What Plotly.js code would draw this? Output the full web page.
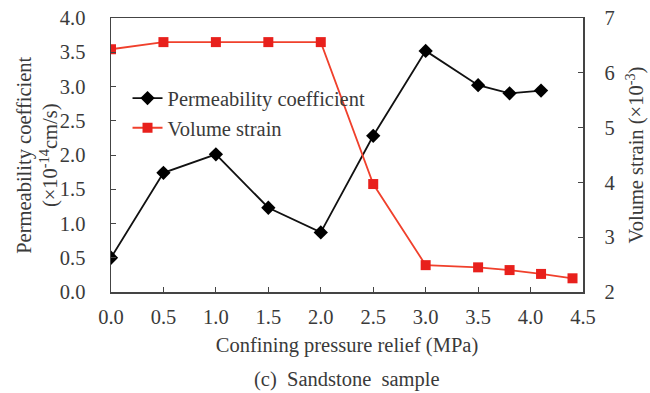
<!DOCTYPE html>
<html>
<head>
<meta charset="utf-8">
<script src="https://cdn.plot.ly/plotly-3.0.1.min.js"></script>
<style>html,body{margin:0;padding:0;background:#fff;}#chart{width:650px;height:393px;}</style>
</head>
<body>
<div id="chart"></div>
<script>
const pressurePerm = [0, 0.5, 1.0, 1.5, 2.0, 2.5, 3.0, 3.5, 3.8, 4.1];
const permeability = [0.50, 1.74, 2.01, 1.23, 0.87, 2.28, 3.52, 3.02, 2.90, 2.94];
const pressureStrain = [0, 0.5, 1.0, 1.5, 2.0, 2.5, 3.0, 3.5, 3.8, 4.1, 4.4];
const volumeStrain = [6.43, 6.56, 6.56, 6.56, 6.56, 3.97, 2.49, 2.45, 2.40, 2.33, 2.25];

const FONT = '"Liberation Serif", serif';
const TXT = '#3a3a3a';
const FS = 20.5;

const traces = [
  {
    x: pressurePerm, y: permeability, name: 'Permeability coefficient',
    type: 'scatter', mode: 'lines+markers', yaxis: 'y',
    line: {color: '#111111', width: 1.8},
    marker: {symbol: 'diamond', size: 11, color: '#000000'}
  },
  {
    x: pressureStrain, y: volumeStrain, name: 'Volume strain',
    type: 'scatter', mode: 'lines+markers', yaxis: 'y2',
    line: {color: '#f0402c', width: 1.8},
    marker: {symbol: 'square', size: 10, color: '#e8201c'}
  }
];

const layout = {
  width: 650, height: 393,
  margin: {l: 111, r: 67, t: 18, b: 101},
  paper_bgcolor: '#ffffff', plot_bgcolor: '#ffffff',
  font: {family: FONT, size: FS, color: TXT},
  showlegend: true,
  legend: {x: 0.035, y: 0.78, xanchor: 'left', yanchor: 'top', bgcolor: 'rgba(0,0,0,0)',
           font: {family: FONT, size: FS, color: TXT}, tracegroupgap: 0, itemwidth: 30},
  xaxis: {
    range: [0, 4.5], dtick: 0.5, tick0: 0, tickformat: '.1f',
    showgrid: false, zeroline: false,
    showline: true, linecolor: '#444444', linewidth: 1.5, mirror: true,
    ticks: 'inside', ticklen: 5, tickcolor: '#444444',
    tickfont: {family: FONT, size: FS, color: TXT},
    ticklabelstandoff: 6,
    title: {text: 'Confining pressure relief (MPa)', font: {family: FONT, size: FS, color: TXT}, standoff: 10}
  },
  yaxis: {
    range: [0, 4.0], dtick: 0.5, tick0: 0, tickformat: '.1f',
    showgrid: false, zeroline: false,
    showline: true, linecolor: '#444444', linewidth: 1.5,
    ticks: 'inside', ticklen: 5, tickcolor: '#444444',
    tickfont: {family: FONT, size: FS, color: TXT},
    ticklabelstandoff: 20
  },
  yaxis2: {
    range: [2, 7], dtick: 1, tick0: 2,
    overlaying: 'y', side: 'right',
    showgrid: false, zeroline: false,
    showline: true, linecolor: '#444444', linewidth: 1.5,
    ticks: 'inside', ticklen: 5, tickcolor: '#444444',
    tickfont: {family: FONT, size: FS, color: TXT},
    ticklabelstandoff: 16,
    title: {text: 'Volume strain (×10<sup>-3</sup>)', font: {family: FONT, size: FS, color: TXT}, standoff: 15}
  },
  annotations: [
    {
      text: 'Permeability coefficient<br>(×10<sup>-14</sup>cm/s)', xref: 'paper', yref: 'paper',
      x: -0.155, y: 0.5, xanchor: 'center', yanchor: 'middle', showarrow: false, textangle: -90,
      font: {family: FONT, size: FS, color: TXT}
    },
    {
      text: '(c)  Sandstone  sample', xref: 'paper', yref: 'paper',
      x: 0.5, y: -0.32, xanchor: 'center', yanchor: 'middle', showarrow: false,
      font: {family: FONT, size: FS, color: TXT}
    }
  ]
};

Plotly.newPlot('chart', traces, layout, {displayModeBar: false, staticPlot: true});
</script>
</body>
</html>
